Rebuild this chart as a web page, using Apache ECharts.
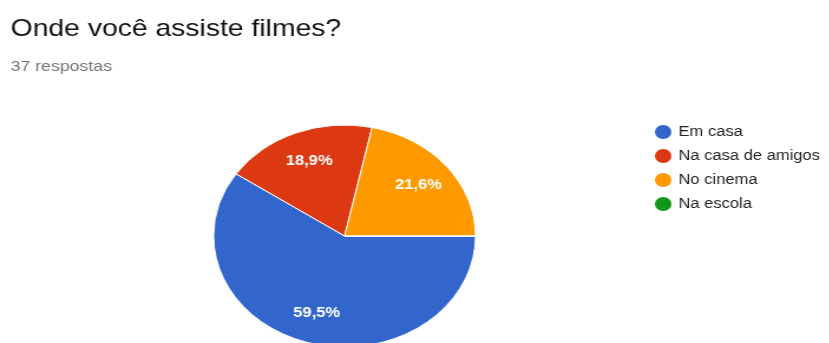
<!DOCTYPE html>
<html lang="pt">
    <head>
        <meta charset="UTF-8">
        <title>Onde você assiste filmes?</title>
        <script src="https://cdn.jsdelivr.net/npm/echarts@6/dist/echarts.min.js"></script>
        <style type="text/css">
            html, body {
                margin: 0;
                padding: 0;
                background: #fff;
                overflow: hidden;
            }
            /* a imagem original está esticada na horizontal */
            #main {
                width: 703px;
                height: 343px;
                transform: scaleX(1.18);
                transform-origin: 0 0;
            }
        </style>
    </head>
    <body>
        <div id="main"></div>
    </body>

    <script type="text/javascript">
        // dados
        var categorias = ['Em casa', 'Na casa de amigos', 'No cinema', 'Na escola'];
        var respostas = [22, 7, 8, 0];
        var cores = ['#3366cc', '#dc3912', '#ff9900', '#109618'];
        var titulo = 'Onde você assiste filmes?';
        var subtitulo = '37 respostas';

        var fonte = 'Arial, "Liberation Sans", Helvetica, sans-serif';

        var dados = [];
        var legenda = [];
        for (var i = 0; i < categorias.length; i++) {
            dados.push({name: categorias[i], value: respostas[i], itemStyle: {color: cores[i]}});
            legenda.push({name: categorias[i], itemStyle: {color: cores[i]}});
        }
        // mesma fatia, transparente, só para pôr o rótulo mais para fora
        var dadosRotulo = [];
        for (var i = 0; i < categorias.length; i++) {
            dadosRotulo.push({name: categorias[i], value: respostas[i]});
        }

        var myChart = echarts.init(document.getElementById('main'));
        myChart.setOption({
            animation: false,
            title: [{
                text: titulo,
                left: 4,
                top: 12,
                textStyle: {fontFamily: fonte, fontSize: 24, fontWeight: 'normal', color: '#111'}
            }, {
                text: subtitulo,
                left: 4,
                top: 54,
                textStyle: {fontFamily: fonte, fontSize: 15, fontWeight: 'normal', color: '#70757a'}
            }],
            legend: {
                orient: 'vertical',
                left: 548,
                top: 118,
                icon: 'circle',
                itemWidth: 16,
                itemHeight: 16,
                itemGap: 6,
                selectedMode: false,
                data: legenda,
                textStyle: {fontFamily: fonte, fontSize: 14, color: '#222'}
            },
            series: [{
                type: 'pie',
                center: [292, 236],
                radius: 111,
                startAngle: 0,
                clockwise: true,
                silent: true,
                label: {show: false},
                labelLine: {show: false},
                itemStyle: {borderColor: '#fff', borderWidth: 1},
                data: dados
            }, {
                type: 'pie',
                center: [292, 236],
                radius: [44, 111],
                startAngle: 0,
                clockwise: true,
                silent: true,
                percentPrecision: 1,
                itemStyle: {color: 'rgba(0,0,0,0)'},
                label: {
                    show: true,
                    position: 'inside',
                    fontFamily: fonte,
                    fontSize: 14,
                    fontWeight: 'bold',
                    color: '#fff',
                    formatter: function (p) {
                        if (!p.value) return '';
                        return p.percent.toFixed(1).replace('.', ',') + '%';
                    }
                },
                labelLine: {show: false},
                data: dadosRotulo
            }]
        });
    </script>
</html>
